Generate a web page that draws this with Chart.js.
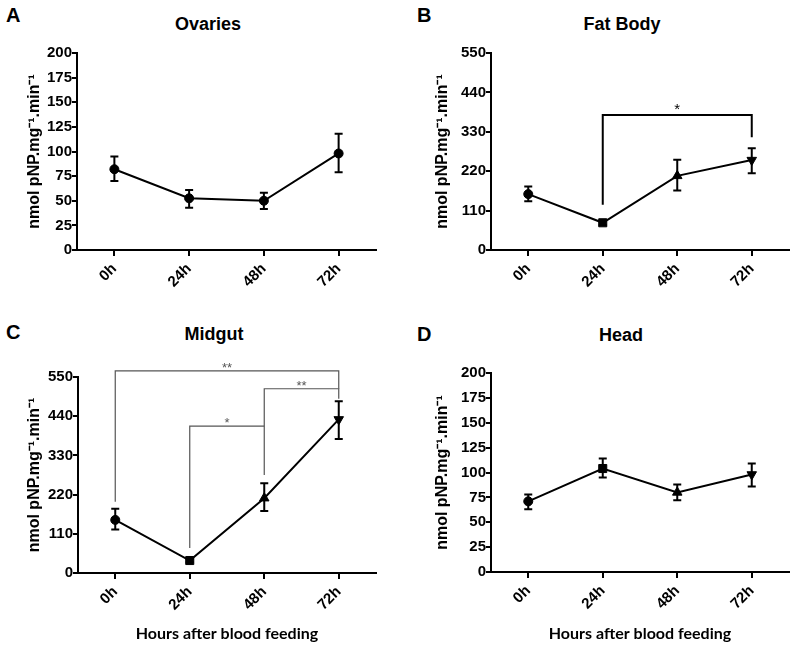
<!DOCTYPE html>
<html>
<head>
<meta charset="utf-8">
<script src="https://cdn.jsdelivr.net/npm/chart.js@4.4.1/dist/chart.umd.min.js"></script>
<style>
body{margin:0;background:#fff;width:796px;height:647px;position:relative;overflow:hidden;font-family:"Liberation Sans",Arial,sans-serif}
canvas{position:absolute}
.letter{position:absolute;font-weight:bold;font-size:20px;line-height:20px}
.title{position:absolute;font-weight:bold;font-size:18px;line-height:18px;transform:translateX(-50%);white-space:nowrap}
</style>
</head>
<body>
<div class="letter" style="left:6px;top:5px">A</div>
<div class="title" style="left:208px;top:15px">Ovaries</div>
<canvas id="ovaries" width="398" height="320" style="left:0;top:0"></canvas>

<div class="letter" style="left:417px;top:5px">B</div>
<div class="title" style="left:622px;top:15px">Fat Body</div>
<canvas id="fatbody" width="396" height="320" style="left:400px;top:0"></canvas>

<div class="letter" style="left:6px;top:322px">C</div>
<div class="title" style="left:214px;top:325px">Midgut</div>
<canvas id="midgut" width="398" height="327" style="left:0;top:320px"></canvas>

<div class="letter" style="left:417px;top:324px">D</div>
<div class="title" style="left:621px;top:326px">Head</div>
<canvas id="head" width="396" height="327" style="left:400px;top:320px"></canvas>

<script>
// time points
const hours = ['0h', '24h', '48h', '72h'];

// Ovaries
const ovariesMean = [82, 52.5, 50, 98];
const ovariesLow = [70, 43, 41.5, 79];
const ovariesHigh = [95, 61, 58, 118];

// Fat body
const fatBodyMean = [156, 76, 207, 251];
const fatBodyLow = [136, 70, 166, 214];
const fatBodyHigh = [177, 82, 252, 284];
const fatBodySig = [{from: 1, to: 3, yFrom: 126, yTo: 315, yTop: 377, label: '*'}];

// Midgut
const midgutMean = [149, 35, 210, 431];
const midgutLow = [122, 30, 174, 376];
const midgutHigh = [180, 40, 252, 482];
const midgutSig = [
    {from: 0, to: 3, yFrom: 200, yTo: 517, yTop: 567, label: '**'},
    {from: 2, to: 3, yFrom: 275, yTo: 489, yTop: 517, label: '**'},
    {from: 1, to: 2, yFrom: 70, yTo: 412, yTop: 412, label: '*'}
];

// Head
const headMean = [71, 104, 80, 98];
const headLow = [63, 95, 72, 86];
const headHigh = [78, 114, 88, 109];

const yTitle = 'nmol pNP.mg⁻¹.min⁻¹';
const xTitle = 'Hours after blood feeding';

const circles = ['circle', 'circle', 'circle', 'circle'];
const mixed = ['circle', 'rect', 'triangle', 'triangle'];
const mixedRotation = [0, 0, 0, 180];

const errorBars = {
    id: 'errorBars',
    beforeDatasetsDraw(chart, args, opts) {
        const {ctx, scales: {x, y}} = chart;
        ctx.save();
        ctx.strokeStyle = '#000';
        ctx.lineWidth = 2;
        opts.low.forEach((lo, i) => {
            const px = x.getPixelForValue(i);
            const yl = y.getPixelForValue(lo);
            const yh = y.getPixelForValue(opts.high[i]);
            ctx.beginPath();
            ctx.moveTo(px, yl); ctx.lineTo(px, yh);
            ctx.moveTo(px - 4, yl); ctx.lineTo(px + 4, yl);
            ctx.moveTo(px - 4, yh); ctx.lineTo(px + 4, yh);
            ctx.stroke();
        });
        ctx.restore();
    }
};

const brackets = {
    id: 'brackets',
    afterDatasetsDraw(chart, args, opts) {
        if (!opts.list) return;
        const {ctx, scales: {x, y}} = chart;
        ctx.save();
        ctx.strokeStyle = opts.color;
        ctx.fillStyle = opts.color;
        ctx.lineWidth = opts.width;
        ctx.font = opts.font;
        ctx.textAlign = 'center';
        ctx.textBaseline = 'alphabetic';
        opts.list.forEach(b => {
            const x1 = x.getPixelForValue(b.from), x2 = x.getPixelForValue(b.to);
            const top = y.getPixelForValue(b.yTop);
            ctx.beginPath();
            ctx.moveTo(x1, y.getPixelForValue(b.yFrom));
            ctx.lineTo(x1, top);
            ctx.lineTo(x2, top);
            ctx.lineTo(x2, y.getPixelForValue(b.yTo));
            ctx.stroke();
            ctx.fillText(b.label, (x1 + x2) / 2, top + opts.textDy);
        });
        ctx.restore();
    }
};

const tickFont = {family: '"Liberation Sans", Arial, sans-serif', size: 15, weight: 'bold'};

function makePanel(id, cfg) {
    return new Chart(document.getElementById(id), {
        type: 'line',
        data: {
            labels: hours,
            datasets: [{
                data: cfg.mean,
                borderColor: '#000',
                borderWidth: 2,
                backgroundColor: '#000',
                pointBackgroundColor: '#000',
                pointBorderColor: '#000',
                pointBorderWidth: 1,
                pointStyle: cfg.markers,
                pointRotation: cfg.rotation,
                pointRadius: cfg.radius,
                tension: 0,
                fill: false
            }]
        },
        options: {
            responsive: false,
            animation: false,
            layout: {padding: {top: cfg.top, right: cfg.right, left: 0, bottom: 0}},
            plugins: {
                legend: {display: false},
                tooltip: {enabled: false},
                errorBars: {low: cfg.low, high: cfg.high},
                brackets: cfg.brackets || {}
            },
            scales: {
                x: {
                    type: 'category',
                    offset: true,
                    grid: {drawOnChartArea: false, drawTicks: true, tickLength: 6, color: '#000', lineWidth: 2},
                    border: {display: true, color: '#000', width: 2},
                    ticks: {color: '#000', font: tickFont, minRotation: 45, maxRotation: 45, padding: 4},
                    title: {
                        display: cfg.xTitle,
                        text: xTitle,
                        color: '#000',
                        font: {family: 'Lato, "Open Sans", sans-serif', size: 16, weight: 'bold'},
                        padding: {top: 0, bottom: 4}
                    },
                    afterFit(s) { s.height = cfg.xh; }
                },
                y: {
                    min: 0,
                    max: cfg.max,
                    grid: {drawOnChartArea: false, drawTicks: true, tickLength: 5, color: '#000', lineWidth: 2},
                    border: {display: true, color: '#000', width: 2},
                    ticks: {color: '#000', font: tickFont, stepSize: cfg.step, padding: 0},
                    title: {
                        display: true,
                        text: yTitle,
                        color: '#000',
                        font: {family: '"Liberation Sans", Arial, sans-serif', size: 16, weight: 'bold'},
                        padding: {top: cfg.yTitlePad, bottom: 0}
                    },
                    afterFit(s) { s.width = cfg.yw; }
                }
            }
        },
        plugins: [errorBars, brackets]
    });
}

makePanel('ovaries', {
    mean: ovariesMean, low: ovariesLow, high: ovariesHigh,
    markers: circles, rotation: [0, 0, 0, 0], radius: [4.5, 4.5, 4.5, 4.5],
    top: 53, right: 22, yw: 77, xh: 70, max: 200, step: 25, yTitlePad: 25, xTitle: false
});

makePanel('fatbody', {
    mean: fatBodyMean, low: fatBodyLow, high: fatBodyHigh,
    markers: mixed, rotation: mixedRotation, radius: [4.5, 5.7, 5.5, 5.5],
    top: 53, right: 7, yw: 91, xh: 70, max: 550, step: 110, yTitlePad: 33, xTitle: false,
    brackets: {list: fatBodySig, color: '#000', width: 2, font: '15px "Liberation Sans", Arial', textDy: -1}
});

makePanel('midgut', {
    mean: midgutMean, low: midgutLow, high: midgutHigh,
    markers: mixed, rotation: mixedRotation, radius: [4.5, 5.7, 5.5, 5.5],
    top: 57, right: 22, yw: 78, xh: 74, max: 550, step: 110, yTitlePad: 25, xTitle: true,
    brackets: {list: midgutSig, color: '#555', width: 1.2, font: '13px "Liberation Sans", Arial', textDy: 1}
});

makePanel('head', {
    mean: headMean, low: headLow, high: headHigh,
    markers: mixed, rotation: mixedRotation, radius: [4.5, 5.7, 5.5, 5.5],
    top: 53, right: 7, yw: 91, xh: 75, max: 200, step: 25, yTitlePad: 33, xTitle: true
});
</script>
</body>
</html>
